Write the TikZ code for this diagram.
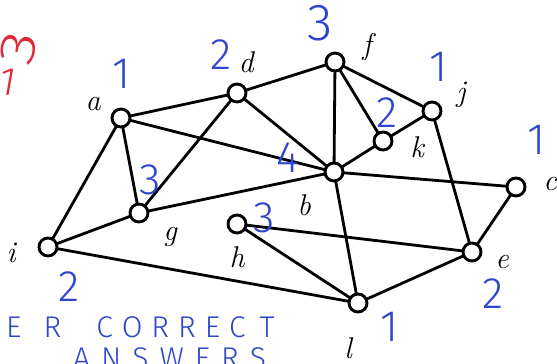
\documentclass[tikz,border=0pt]{standalone}
\usepackage{fontspec}
\newfontfamily\hand{Fira Sans Light}
\definecolor{penblue}{RGB}{45,70,205}
\definecolor{penred}{RGB}{225,40,55}
\newcommand{\gp}[1]{\hspace{#1pt}}
\begin{document}
\begin{tikzpicture}[x=1pt,y=-1pt,
  vert/.style={circle,draw,line width=2.9pt,fill=white,minimum size=18pt,inner sep=0pt},
  edge/.style={line width=2.8pt},
  lab/.style={anchor=base,inner sep=0pt,font=\fontsize{30}{31}\selectfont\itshape},
  colmark/.style={text=penblue,inner sep=0pt,font=\hand\fontsize{44}{44}\selectfont},
  penote/.style={text=penblue,inner sep=0pt,anchor=base west,font=\hand\fontsize{30}{30}\selectfont}]
\useasboundingbox (0,0) rectangle (557,364);
\fill[white] (0,0) rectangle (557,364);
% vertices
\coordinate (pa) at (121,118);
\coordinate (pd) at (237,93);
\coordinate (pf) at (335,62);
\coordinate (pj) at (432,111);
\coordinate (pk) at (383,141);
\coordinate (pb) at (334,172);
\coordinate (pc) at (516,187);
\coordinate (pg) at (139,213);
\coordinate (ph) at (237,224);
\coordinate (pe) at (472,252);
\coordinate (pi) at (48,247);
\coordinate (pl) at (358,303);
% edges
\draw[edge] (pa)--(pd) (pa)--(pb) (pa)--(pg) (pa)--(pi)
  (pd)--(pf) (pd)--(pb) (pd)--(pg)
  (pf)--(pb) (pf)--(pk) (pf)--(pj)
  (pj)--(pk) (pj)--(pe) (pk)--(pb)
  (pb)--(pc) (pb)--(pg) (pb)--(pl)
  (pc)--(pe) (ph)--(pe) (ph)--(pl)
  (pi)--(pg) (pi)--(pl) (pl)--(pe);
\foreach \v in {a,d,f,j,k,b,c,g,h,e,i,l} \node[vert] (\v) at (p\v) {};
% labels
\node[lab] (la) at (93,110) {a};
\node[lab] (ld) at (246,72) {d};
\node[lab] (lf) at (367,54) {f};
\node[lab] (lj) at (461,101) {j};
\node[lab] (lk) at (417,157) {k};
\node[lab] (lc) at (550,190) {c};
\node[lab] (lb) at (304,215) {b};
\node[lab] (le) at (502,268) {e};
\node[lab] (lg) at (170,240) {g};
\node[lab] (lh) at (237,267) {h};
\node[lab] (li) at (11,262) {i};
\node[lab] (ll) at (348,358) {l};
% handwritten colours
\node[colmark] (ma) at (122,74) {1};
\node[colmark] (md) at (221,55) {2};
\node[colmark,font=\hand\fontsize{52}{52}\selectfont] (mf) at (320,23) {3};
\node[colmark] (mj) at (439,67) {1};
\node[colmark] (mk) at (387,113) {2};
\node[colmark] (mb) at (288,158) {4};
\node[colmark] (mc) at (537,140) {1};
\node[colmark] (mg) at (150,180) {3};
\node[colmark] (mh) at (264,218) {3};
\node[colmark] (mi) at (69,287) {2};
\node[colmark] (me) at (493,294) {2};
\node[colmark] (ml) at (390,327) {1};
\node[text=penred,inner sep=0pt,font=\hand\fontsize{40}{40}\selectfont,rotate=-10] (r1) at (8,82) {1};
\node[text=penred,inner sep=0pt,font=\hand\fontsize{50}{50}\selectfont] (r3) at (19,48) {\rotatebox{78}{\scalebox{1.35}[1]{3}}};
\node[penote] (n1) at (6,337) {E\gp{22}R\gp{35}C\gp{9}O\gp{9}R\gp{9}R\gp{9}E\gp{9}C\gp{14}T};
\node[penote] (n2) at (73,368) {A\gp{11}N\gp{11}S\gp{11}W\gp{11}E\gp{11}R\gp{11}S};
\end{tikzpicture}
\end{document}
